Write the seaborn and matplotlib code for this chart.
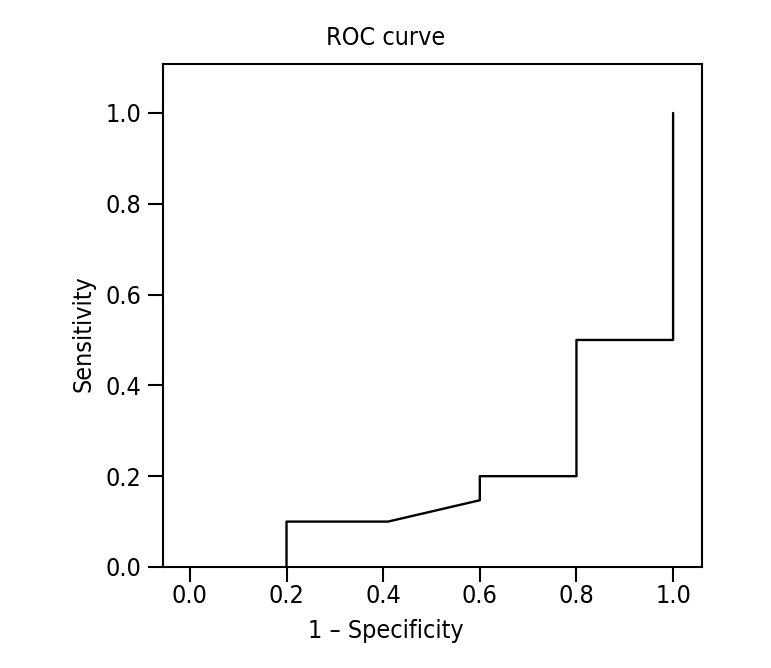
import matplotlib
matplotlib.use("Agg")
import matplotlib.pyplot as plt
import pandas as pd
import seaborn as sns

sns.set_theme(style="ticks")
plt.rcParams["font.family"] = ["Liberation Sans Narrow", "DejaVu Sans"]
plt.rcParams["font.stretch"] = "condensed"

# ROC curve points
fpr = [0.2, 0.2, 0.41, 0.6, 0.6, 0.8, 0.8, 1.0, 1.0]
tpr = [0.0, 0.1, 0.1, 0.147, 0.2, 0.2, 0.5, 0.5, 1.0]
ticks = [0.0, 0.2, 0.4, 0.6, 0.8, 1.0]

data = pd.DataFrame({"fpr": fpr, "tpr": tpr})

fig = plt.figure(figsize=(7.71, 6.68), dpi=100)
ax = fig.add_axes([0.2118, 0.1512, 0.6982, 0.7525])

sns.lineplot(
    x="fpr", y="tpr", data=data,
    sort=False, estimator=None,
    color="black", linewidth=1.7, ax=ax
)

ax.set_xlim(-0.055, 1.059)
ax.set_ylim(0.0, 1.107)
ax.set_xticks(ticks)
ax.set_yticks(ticks)
ax.set_xticklabels(["{:.1f}".format(t) for t in ticks])
ax.set_yticklabels(["{:.1f}".format(t) for t in ticks])
ax.tick_params(axis="both", labelsize=18, length=11, width=1.5, color="black",
               labelcolor="black")
ax.tick_params(axis="x", pad=1)
ax.tick_params(axis="y", pad=5)
for spine in ax.spines.values():
    spine.set_color("black")
    spine.set_linewidth(1.5)
ax.set_xlabel("")
ax.set_ylabel("")

# Title and axis labels are centred on the figure, not the axes
fig.text(0.5, 0.933, "ROC curve", ha="center", va="baseline",
         fontsize=18, color="black")
fig.text(0.5, 0.045, "1 \u2013 Specificity", ha="center", va="baseline",
         fontsize=18, color="black")
fig.text(0.108, 0.5, "Sensitivity", ha="center", va="center",
         rotation="vertical", fontsize=18, color="black")

fig.savefig("out.png", dpi=100)
